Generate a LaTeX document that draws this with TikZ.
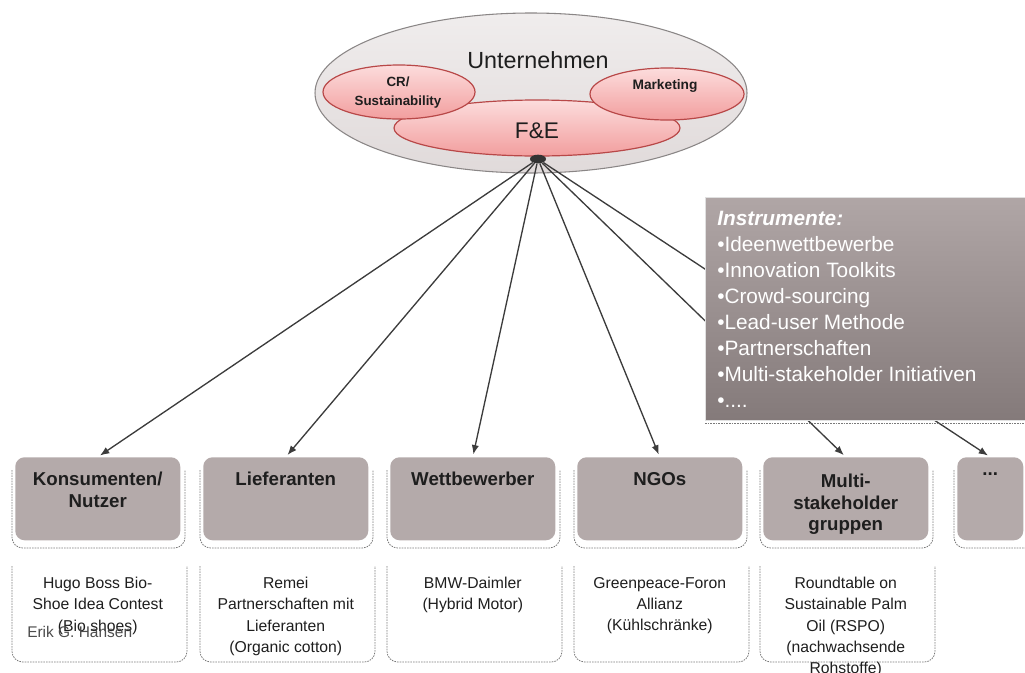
\documentclass[tikz,border=0pt]{standalone}
\usepackage{fontspec}
\setmainfont{Liberation Sans}
\usetikzlibrary{shapes.geometric,arrows.meta,calc}

\definecolor{boxgrey}{HTML}{B4AAAA}
\definecolor{instTop}{HTML}{B0A6A6}
\definecolor{instBot}{HTML}{847A7A}
\definecolor{pinkTop}{HTML}{FCDCDC}
\definecolor{pinkBot}{HTML}{F29E9E}
\definecolor{pinkEdge}{HTML}{B84848}
\definecolor{ovalTop}{HTML}{F0EDED}
\definecolor{ovalBot}{HTML}{E0DADA}
\definecolor{ovalEdge}{HTML}{8A8686}
\definecolor{arrowcol}{HTML}{3C3C3C}
\definecolor{framecol}{HTML}{7A7A7A}
\definecolor{textcol}{HTML}{1E1E1E}

\tikzset{
  oval/.style={ellipse, inner sep=0pt, draw=ovalEdge, line width=0.8pt,
    top color=ovalTop, bottom color=ovalBot},
  pinkoval/.style={ellipse, inner sep=0pt, draw=pinkEdge, line width=0.9pt,
    top color=pinkTop, bottom color=pinkBot},
  hubdot/.style={ellipse, inner sep=0pt, fill=black!80, minimum width=12pt, minimum height=6.5pt},
  conn/.style={draw=arrowcol, line width=1pt, -{Latex[length=7pt,width=5.5pt]}, shorten >=2pt},
  greybox/.style={rectangle, rounded corners=7pt, fill=boxgrey, inner sep=0pt,
    anchor=north west, minimum height=62.25pt},
  boxframe/.style={draw=framecol, line width=0.6pt, dash pattern=on 1.2pt off 0.8pt, rounded corners=8pt},
  titletext/.style={font=\bfseries\fontsize{14}{15.9}\selectfont, text=textcol,
    align=center, inner sep=0pt, anchor=north},
  infotext/.style={font=\fontsize{11.8}{15.9}\selectfont, text=textcol,
    align=center, inner sep=0pt, anchor=north},
  insttext/.style={font=\fontsize{15.6}{19.5}\selectfont, text=white,
    align=left, inner sep=0pt, anchor=north west},
}

\begin{document}
\begin{tikzpicture}[x=0.75pt, y=-0.75pt]
\useasboundingbox (0,0) rectangle (1025,672);

% company oval with its departments
\node[oval, minimum width=324pt, minimum height=120pt] (firm) at (531,93) {};
\node[pinkoval, minimum width=214.5pt, minimum height=42pt] (fue) at (537,128) {};
\node[pinkoval, minimum width=114pt, minimum height=40.5pt] (cr) at (399,92) {};
\node[pinkoval, minimum width=115.5pt, minimum height=39pt] (mkt) at (667,94) {};

\node[font=\fontsize{17.5}{20}\selectfont, text=textcol, inner sep=0pt] (firmlbl) at (538,60) {Unternehmen};
\node[font=\fontsize{17}{20}\selectfont, text=textcol, inner sep=0pt] (fuelbl) at (537,131) {F\&E};
\node[font=\bfseries\fontsize{10}{14.3}\selectfont, text=textcol, align=center, inner sep=0pt] (crlbl) at (398,93) {CR/\\Sustainability};
\node[font=\bfseries\fontsize{10.3}{12}\selectfont, text=textcol, inner sep=0pt] (mktlbl) at (665,86) {Marketing};

\node[hubdot] (hub) at (538,159) {};

% stakeholder columns: shadow frames and grey headers
\foreach \x/\n in {15/1, 203/2, 390/3, 577/4, 763/5} {
  \draw[boxframe] (\x-3,470) -- (\x-3,548) -- (\x+170,548) -- (\x+170,470);
  \node[greybox, minimum width=123.75pt] (b\n) at (\x,457) {};
  \draw[boxframe] (\x-3,566) -- (\x-3,662) -- (\x+172,662) -- (\x+172,566);
}
\draw[boxframe] (954,470) -- (954,548) -- (1035,548);
\node[greybox, minimum width=49.5pt] (b6) at (957,457) {};

% header labels
\node[titletext] (t1) at (b1.north |- 0,472) {Konsumenten/\\Nutzer};
\node[titletext] (t2) at (b2.north |- 0,472) {Lieferanten};
\node[titletext] (t3) at (b3.north |- 0,472) {Wettbewerber};
\node[titletext] (t4) at (b4.north |- 0,472) {NGOs};
\node[titletext] (t5) at (b5.north |- 0,474) {Multi-\\stakeholder\\gruppen};
\node[titletext] (t6) at (b6.north |- 0,472) {...};

% examples below each header
\node[infotext] (e1) at (b1.north |- 0,577) {Hugo Boss Bio-\\Shoe Idea Contest\\(Bio shoes)};
\node[infotext] (e2) at (b2.north |- 0,577) {Remei\\Partnerschaften mit\\Lieferanten\\(Organic cotton)};
\node[infotext] (e3) at (b3.north |- 0,577) {BMW-Daimler\\(Hybrid Motor)};
\node[infotext] (e4) at (b4.north |- 0,577) {Greenpeace-Foron\\Allianz\\(Kühlschränke)};
\node[infotext] (e5) at (b5.north |- 0,577) {Roundtable on\\Sustainable Palm\\Oil (RSPO)\\(nachwachsende\\Rohstoffe)};
\node[font=\fontsize{11.6}{12}\selectfont, text=black!70, inner sep=0pt, anchor=west] (author) at (27,632) {Erik G. Hansen};

% connectors from R&D to every stakeholder group
\foreach \n in {1,...,6} {
  \draw[conn] (hub) -- (b\n.north);
}

% instruments panel on top of the connectors
\node[rectangle, anchor=north west, inner sep=0pt, minimum width=243.75pt, minimum height=167.25pt,
  top color=instTop, bottom color=instBot, draw=black!12, line width=0.4pt] (inst) at (705,197) {};
\draw[boxframe, rounded corners=0pt] (705,423) -- (1030,423);
\node[insttext] (insttxt) at (717,211) {\textbf{\textit{Instrumente:}}\\
  •Ideenwettbewerbe\\
  •Innovation Toolkits\\
  •Crowd-sourcing\\
  •Lead-user Methode\\
  •Partnerschaften\\
  •Multi-stakeholder Initiativen\\
  •....};
\end{tikzpicture}
\end{document}
